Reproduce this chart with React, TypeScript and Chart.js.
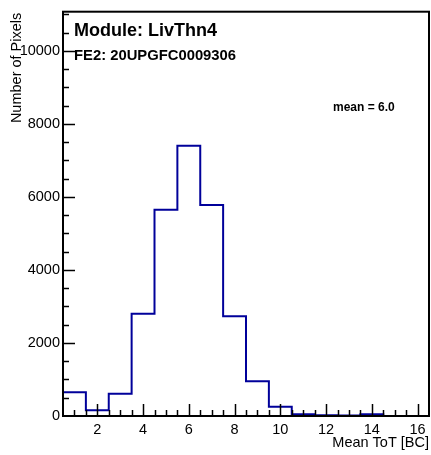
import React, { useEffect, useRef } from "react";
import { Chart, registerables } from "chart.js";

Chart.register(...registerables);

// ---- data ----
const binCenters = [1, 2, 3, 4, 5, 6, 7, 8, 9, 10, 11, 12, 13, 14, 15, 16];
const counts = [650, 155, 608, 2800, 5650, 7400, 5780, 2730, 950, 250, 50, 20, 15, 50, 3, 0];
const binWidth = 1;
const xTicks = [2, 4, 6, 8, 10, 12, 14, 16];
const yTicks = [0, 2000, 4000, 6000, 8000, 10000];
const xRange = [0.5, 16.5];
const yMax = 11070;
const xMinorStep = 0.5;
const yMinorStep = 500;
const moduleLabel = "Module: LivThn4";
const feLabel = "FE2: 20UPGFC0009306";
const meanLabel = "mean = 6.0";
const xTitle = "Mean ToT [BC]";
const yTitle = "Number of Pixels";

const FONT = "'Liberation Sans', Arial, Helvetica, sans-serif";
const LINE_COLOR = "#00009a";

const framePlugin = {
  id: "rootFrame",
  afterDraw(chart: any) {
    const { ctx, chartArea, scales } = chart;
    const { left, right, top, bottom } = chartArea;
    const xs = scales.x;
    const ys = scales.y;
    ctx.save();
    ctx.strokeStyle = "#000";
    ctx.lineWidth = 1.5;
    // x ticks (inside)
    for (let v = xRange[0] + xMinorStep; v < xRange[1] - 1e-9; v += xMinorStep) {
      const px = Math.round(xs.getPixelForValue(v)) + 0.5;
      const major = xTicks.includes(v);
      ctx.beginPath();
      ctx.moveTo(px, bottom);
      ctx.lineTo(px, bottom - (major ? 12 : 6));
      ctx.stroke();
    }
    // y ticks (inside)
    for (let v = yMinorStep; v <= yMax; v += yMinorStep) {
      const py = Math.round(ys.getPixelForValue(v)) + 0.5;
      const major = yTicks.includes(v);
      ctx.beginPath();
      ctx.moveTo(left, py);
      ctx.lineTo(left + (major ? 12 : 6), py);
      ctx.stroke();
    }
    // frame
    ctx.lineWidth = 2;
    ctx.strokeRect(left, top, right - left, bottom - top);

    // texts
    ctx.fillStyle = "#000";
    ctx.textAlign = "left";
    ctx.textBaseline = "alphabetic";
    ctx.font = `bold 18px ${FONT}`;
    ctx.fillText(moduleLabel, left + 11, top + 24);
    ctx.font = `bold 14.8px ${FONT}`;
    ctx.fillText(feLabel, left + 11, top + 48);
    ctx.font = `bold 12px ${FONT}`;
    ctx.fillText(meanLabel, left + 270, top + 99);

    ctx.font = `14.5px ${FONT}`;
    ctx.textAlign = "right";
    ctx.fillText(xTitle, right, bottom + 31);

    ctx.translate(21, top + 1);
    ctx.rotate(-Math.PI / 2);
    ctx.textAlign = "right";
    ctx.fillText(yTitle, 0, 0);
    ctx.restore();
  },
};

export default function App() {
  const canvasRef = useRef<HTMLCanvasElement | null>(null);

  useEffect(() => {
    document.body.style.margin = "0";
    const canvas = canvasRef.current;
    if (!canvas) return;

    const points = binCenters.map((c, i) => ({ x: c - binWidth / 2, y: counts[i] }));
    points.push({
      x: binCenters[binCenters.length - 1] + binWidth / 2,
      y: counts[counts.length - 1],
    });

    const chart = new Chart(canvas, {
      type: "line",
      data: {
        datasets: [
          {
            data: points,
            stepped: "before",
            borderColor: LINE_COLOR,
            borderWidth: 2,
            pointRadius: 0,
            fill: false,
          },
        ],
      },
      options: {
        responsive: false,
        animation: false,
        devicePixelRatio: 1,
        layout: { padding: { top: 10, right: 2, left: 0, bottom: 0 } },
        plugins: {
          legend: { display: false },
          tooltip: { enabled: false },
        },
        scales: {
          x: {
            type: "linear",
            min: xRange[0],
            max: xRange[1],
            afterBuildTicks: (s: any) => {
              s.ticks = xTicks.map((v) => ({ value: v }));
            },
            afterFit: (s: any) => {
              s.height = 39;
            },
            grid: { display: false, drawTicks: false },
            border: { display: false },
            ticks: {
              autoSkip: false,
              maxRotation: 0,
              minRotation: 0,
              padding: 5,
              color: "#000",
              font: { family: FONT, size: 14.5 },
              callback: (v: any) => String(v),
            },
          },
          y: {
            type: "linear",
            min: 0,
            max: yMax,
            afterBuildTicks: (s: any) => {
              s.ticks = yTicks.map((v) => ({ value: v }));
            },
            afterFit: (s: any) => {
              s.width = 63;
            },
            grid: { display: false, drawTicks: false },
            border: { display: false },
            ticks: {
              autoSkip: false,
              padding: 3,
              color: "#000",
              font: { family: FONT, size: 14.5 },
              callback: (v: any) => String(v),
            },
          },
        },
      },
      plugins: [framePlugin],
    });
    return () => chart.destroy();
  }, []);

  return (
    <div style={{ position: "fixed", left: 0, top: 0, width: 431, height: 455 }}>
      <canvas ref={canvasRef} width={431} height={455} />
    </div>
  );
}
